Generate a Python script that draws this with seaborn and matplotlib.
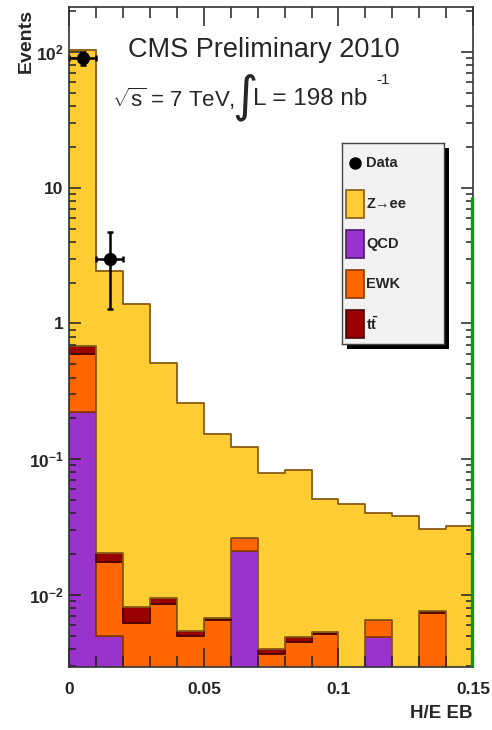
import numpy as np
import pandas as pd
import matplotlib
matplotlib.use("Agg")
import matplotlib.pyplot as plt
import matplotlib.ticker as mticker
import matplotlib.transforms as mtransforms
from matplotlib.patches import Rectangle
import seaborn as sns

# ---- data -------------------------------------------------------------
bin_edges = [0.00, 0.01, 0.02, 0.03, 0.04, 0.05, 0.06, 0.07, 0.08,
             0.09, 0.10, 0.11, 0.12, 0.13, 0.14, 0.15]
zee = [102.3, 2.42, 1.38, 0.504, 0.2545, 0.146, 0.096, 0.0747, 0.0784,
       0.0455, 0.0466, 0.0338, 0.0382, 0.0228, 0.0322]
ttbar = [0.091, 0.0029, 0.00185, 0.00095, 0.00042, 0.0003, 0.0, 0.0003,
         0.00037, 0.00015, 0.0, 0.0, 0.0, 0.00025, 0.0]
ewk = [0.372, 0.0124, 0.00625, 0.0086, 0.0050, 0.0065, 0.0051, 0.0037,
       0.0045, 0.0052, 0.0, 0.0017, 0.0, 0.0074, 0.0]
qcd = [0.224, 0.005, 0.0, 0.0, 0.0, 0.0, 0.021, 0.0, 0.0, 0.0, 0.0,
       0.0049, 0.0, 0.0, 0.0]

data_x = [0.005, 0.015]
data_counts = [90, 3]

green_line_top = 8.5

processes = ["Z\u2192ee", "ttbar", "EWK", "QCD"]   # stacking: last at bottom
fill_colors = {"Z\u2192ee": "#FFCC33", "ttbar": "#990000",
               "EWK": "#FF6600", "QCD": "#9933CC"}
edge_colors = {"Z\u2192ee": "#8a5a14", "ttbar": "#4d0000",
               "EWK": "#8a3a00", "QCD": "#4a1870"}

# ---- style ------------------------------------------------------------
sns.set_style("ticks")
plt.rcParams["font.family"] = ["Liberation Sans", "DejaVu Sans"]
plt.rcParams["mathtext.fontset"] = "custom"
plt.rcParams["mathtext.rm"] = "Liberation Sans"
plt.rcParams["mathtext.it"] = "Liberation Sans:italic"
plt.rcParams["mathtext.bf"] = "Liberation Sans:bold"

W, H = 492, 730
fig = plt.figure(figsize=(W / 100, H / 100), dpi=100)


def fig_box(x0, y0, x1, y1):
    """pixel box (top-left origin) -> figure fraction rect"""
    return [x0 / W, 1 - y1 / H, (x1 - x0) / W, (y1 - y0) / H]


def fx(px):
    return px / W


def fy(py):
    return 1 - py / H


ax = fig.add_axes(fig_box(69.3, 7.3, 473, 666.7))
ax.set_axisbelow(False)

centers = (np.array(bin_edges[:-1]) + np.array(bin_edges[1:])) / 2
series = {"Z\u2192ee": zee, "ttbar": ttbar, "EWK": ewk, "QCD": qcd}
df = pd.DataFrame({
    "he": np.tile(centers, len(processes)),
    "events": np.concatenate([series[p] for p in processes]),
    "process": np.repeat(processes, len(centers)),
})

sns.histplot(data=df, x="he", weights="events", hue="process",
             hue_order=processes, bins=bin_edges, multiple="stack",
             element="step", palette=fill_colors, alpha=1, linewidth=1.3,
             legend=False, ax=ax)

# darker outline for each stacked component
lookup = {tuple(np.round(matplotlib.colors.to_rgba(c), 3)): p
          for p, c in fill_colors.items()}
for coll in ax.collections:
    fc = tuple(np.round(coll.get_facecolor()[0], 3))
    if fc in lookup:
        coll.set_edgecolor(edge_colors[lookup[fc]])
        coll.set_zorder(1)

ax.set_yscale("log")
ax.set_xlim(0, 0.15)
ax.set_ylim(10 ** -2.528, 10 ** 2.329)

# green histogram edge at the upper boundary (nudged 1 px inside)
shift = mtransforms.ScaledTranslation(-1.2 / 100, 0, fig.dpi_scale_trans)
ax.vlines(bin_edges[-1], ax.get_ylim()[0], green_line_top, color="#0a9a0a",
          lw=2.4, zorder=7, clip_on=False, transform=ax.transData + shift)

# data points
yerr = np.sqrt(np.array(data_counts, dtype=float))
ax.errorbar(data_x, data_counts, xerr=0.005, yerr=yerr, fmt="o",
            color="black", ms=8.5, elinewidth=1.8, capsize=2.2,
            capthick=1.8, zorder=5, clip_on=False)

# ---- axes cosmetics ---------------------------------------------------
for s in ax.spines.values():
    s.set_linewidth(1.2)
    s.set_color("#333333")
    s.set_visible(True)
    s.set_zorder(6)

ax.set_xlabel("")
ax.set_ylabel("")
ax.xaxis.set_major_locator(mticker.FixedLocator([0, 0.05, 0.10, 0.15]))
ax.xaxis.set_major_formatter(mticker.FixedFormatter(["0", "0.05", "0.1", "0.15"]))
ax.xaxis.set_minor_locator(mticker.MultipleLocator(0.01))
ax.yaxis.set_major_locator(mticker.FixedLocator([1e-2, 1e-1, 1, 10, 100]))
ax.yaxis.set_major_formatter(mticker.FixedFormatter(
    [r"$\mathbf{10^{-2}}$", r"$\mathbf{10^{-1}}$", "1", "10", r"$\mathbf{10^{2}}$"]))
ax.yaxis.set_minor_locator(mticker.LogLocator(base=10, subs=np.arange(2, 10)))
ax.yaxis.set_minor_formatter(mticker.NullFormatter())

ax.tick_params(axis="both", which="both", direction="in", top=True,
               right=True, color="#222222", width=1.1, labelsize=12.5)
ax.tick_params(axis="x", which="major", length=13.5, pad=11)
ax.tick_params(axis="x", which="minor", length=7.8)
ax.tick_params(axis="y", which="major", length=8.6, pad=4)
ax.tick_params(axis="y", which="minor", length=4.8)
for lab in ax.get_xticklabels() + ax.get_yticklabels():
    lab.set_fontweight("bold")

# ---- titles / labels --------------------------------------------------
fig.text(fx(264), fy(50), "CMS Preliminary 2010", ha="center",
         va="center", fontsize=19.5)
fig.text(fx(112), fy(99), r"$\sqrt{\mathrm{s}}$ = 7 TeV,", ha="left",
         va="center", fontsize=16)
fig.text(fx(232), fy(97), "\u222b", ha="left", va="center", fontsize=35,
         family="DejaVu Sans")
fig.text(fx(253), fy(99), "L = 198 nb", ha="left", va="center",
         fontsize=17.5)
fig.text(fx(376), fy(80), "-1", ha="left", va="center", fontsize=11)
fig.text(fx(26), fy(9), "Events", rotation=90, ha="center", va="top",
         fontsize=14, fontweight="bold")
fig.text(fx(473), fy(714), "H/E EB", ha="right", va="center",
         fontsize=13.5, fontweight="bold")

# ---- legend box with drop shadow -------------------------------------
shadow = Rectangle((fx(347), fy(349)), 102 / W, 201 / H,
                   transform=fig.transFigure, facecolor="black",
                   edgecolor="none", zorder=8)
fig.add_artist(shadow)
lax = fig.add_axes(fig_box(342, 143, 444, 344))
lax.set_zorder(9)
lax.set_facecolor("#f2f2f2")
lax.set_xlim(342, 444)
lax.set_ylim(344, 143)
lax.set_xticks([])
lax.set_yticks([])
for s in lax.spines.values():
    s.set_linewidth(1.0)
    s.set_color("#444444")

entries = [("Data", None), ("Z\u2192ee", "Z\u2192ee"), ("QCD", "QCD"),
           ("EWK", "EWK"), (r"$\mathbf{t\bar{t}}$", "ttbar")]
row_y = [163, 204, 244, 284, 324]
for (label, key), yc in zip(entries, row_y):
    if key is None:
        lax.plot([354.5], [yc], "o", color="black", ms=8)
    else:
        lax.add_patch(Rectangle((345.5, yc - 14), 18.5, 28,
                                facecolor=fill_colors[key],
                                edgecolor=edge_colors[key], lw=1.2))
    lax.text(366.5, yc, label, ha="left", va="center", fontsize=10.5,
             fontweight="bold")

fig.savefig("out.png", dpi=100)
